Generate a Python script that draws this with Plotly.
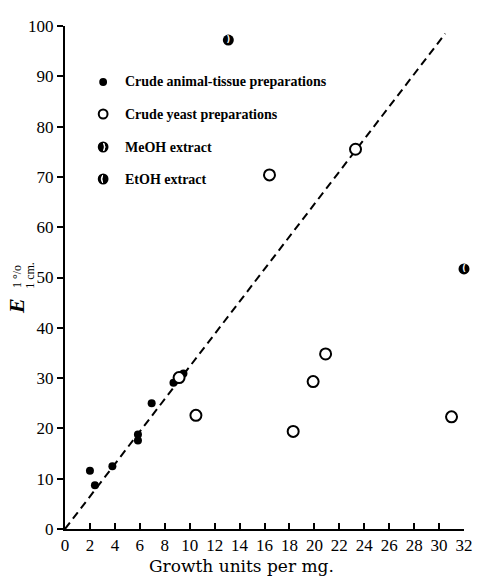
import plotly.graph_objects as go

# ---- data ----
animal_x = [2.0, 2.4, 3.8, 5.85, 5.85, 6.95, 8.7, 9.5]
animal_y = [11.6, 8.7, 12.5, 18.8, 17.6, 25.0, 29.1, 30.9]

yeast_x = [9.15, 10.5, 16.4, 18.3, 19.9, 20.9, 23.3, 31.0]
yeast_y = [30.1, 22.6, 70.4, 19.4, 29.3, 34.8, 75.5, 22.3]

meoh_x = [13.1]
meoh_y = [97.2]

etoh_x = [32.0]
etoh_y = [51.7]

line_x = [0.0, 30.5]
line_y = [0.0, 98.5]

x_ticks = list(range(0, 33, 2))
y_ticks = list(range(0, 101, 10))

legend_labels = ["Crude animal-tissue preparations",
                 "Crude yeast preparations",
                 "MeOH extract",
                 "EtOH extract"]

# ---- layout geometry ----
W, H = 485, 577
L, R, T, B = 65, 12, 26, 48
PW, PH = W - L - R, H - T - B


def px(xp):
    return (xp - L) / PW


def py(yp):
    return (H - B - yp) / PH


SERIF = "Liberation Serif, Times New Roman, serif"
fig = go.Figure()

fig.add_trace(go.Scatter(x=line_x, y=line_y, mode="lines",
                         line=dict(color="black", width=2, dash="8px,5px"),
                         showlegend=False, hoverinfo="skip"))

fig.add_trace(go.Scatter(x=animal_x, y=animal_y, mode="markers",
                         marker=dict(symbol="circle", size=8, color="black"),
                         cliponaxis=False, showlegend=False))

fig.add_trace(go.Scatter(x=yeast_x, y=yeast_y, mode="markers",
                         marker=dict(symbol="circle", size=11, color="white",
                                     line=dict(color="black", width=2)),
                         cliponaxis=False, showlegend=False))

# half-filled markers: black disc with a white crescent
for hx, hy, cres in [(meoh_x, meoh_y, ")"), (etoh_x, etoh_y, "(")]:
    fig.add_trace(go.Scatter(x=hx, y=hy, mode="markers+text",
                             marker=dict(symbol="circle", size=11, color="black"),
                             text=[cres] * len(hx), textposition="middle center",
                             textfont=dict(family="DejaVu Sans", size=8, color="white",
                                           weight="bold"),
                             cliponaxis=False, showlegend=False))

annotations = []
shapes = []


def circle(cx, cy, r, fill, line_w=0):
    return dict(type="circle", xref="paper", yref="paper",
                x0=px(cx - r), x1=px(cx + r), y0=py(cy + r), y1=py(cy - r),
                fillcolor=fill, line=dict(color="black", width=line_w),
                layer="above")


# legend built from shapes + text
leg_rows = [82, 114, 147, 179]
mx = 104
shapes.append(circle(mx, leg_rows[0], 4, "black"))
shapes.append(circle(mx, leg_rows[1], 4.5, "white", 2))
shapes.append(circle(mx, leg_rows[2], 5.5, "black"))
shapes.append(dict(type="path", xref="paper", yref="paper",
                   path="M {} {} Q {} {} {} {} Q {} {} {} {} Z".format(
                       px(mx + 0.5), py(leg_rows[2] - 4),
                       px(mx + 3.5), py(leg_rows[2]), px(mx + 0.5), py(leg_rows[2] + 4),
                       px(mx + 2.0), py(leg_rows[2]), px(mx + 0.5), py(leg_rows[2] - 4)),
                   fillcolor="white", line=dict(color="white", width=1), layer="above"))
shapes.append(circle(mx, leg_rows[3], 5.5, "black"))
shapes.append(dict(type="path", xref="paper", yref="paper",
                   path="M {} {} Q {} {} {} {} Q {} {} {} {} Z".format(
                       px(mx - 0.5), py(leg_rows[3] - 4),
                       px(mx - 3.5), py(leg_rows[3]), px(mx - 0.5), py(leg_rows[3] + 4),
                       px(mx - 2.0), py(leg_rows[3]), px(mx - 0.5), py(leg_rows[3] - 4)),
                   fillcolor="white", line=dict(color="white", width=1), layer="above"))

for i, lab in enumerate(legend_labels):
    annotations.append(dict(x=px(124), y=py(leg_rows[i]), xref="paper", yref="paper",
                            text="<b>" + lab + "</b>", showarrow=False, xanchor="left",
                            yanchor="middle",
                            font=dict(family=SERIF, size=14, color="black")))

# x-axis title
annotations.append(dict(x=px(245), y=py(566), xref="paper", yref="paper",
                        text="Growth units per mg.", showarrow=False,
                        xanchor="center", yanchor="middle",
                        font=dict(family="DejaVu Serif", size=17, color="black")))

# y-axis title E 1% / 1 cm.
annotations.append(dict(x=px(15), y=py(306), xref="paper", yref="paper",
                        text="<b><i>E</i></b>", showarrow=False, textangle=-90,
                        xanchor="center", yanchor="middle",
                        font=dict(family=SERIF, size=22, color="black")))
annotations.append(dict(x=px(16), y=py(277), xref="paper", yref="paper",
                        text="1 °/o", showarrow=False, textangle=-90,
                        xanchor="center", yanchor="middle",
                        font=dict(family=SERIF, size=12, color="black")))
annotations.append(dict(x=px(29), y=py(275), xref="paper", yref="paper",
                        text="1 cm.", showarrow=False, textangle=-90,
                        xanchor="center", yanchor="middle",
                        font=dict(family=SERIF, size=12, color="black")))

fig.update_layout(
    width=W, height=H,
    margin=dict(l=L, r=R, t=T, b=B, pad=0),
    paper_bgcolor="white", plot_bgcolor="white",
    showlegend=False,
    annotations=annotations,
    shapes=shapes,
    xaxis=dict(range=[0, 32], tickvals=x_ticks, ticktext=[str(v) for v in x_ticks],
               showgrid=False, zeroline=False, showline=True, linecolor="black",
               linewidth=2, ticks="inside", ticklen=6, tickwidth=2, tickcolor="black",
               tickfont=dict(family=SERIF, size=17, color="black"), fixedrange=True),
    yaxis=dict(range=[0, 100], tickvals=y_ticks, ticktext=[str(v) for v in y_ticks],
               showgrid=False, zeroline=False, showline=True, linecolor="black",
               linewidth=2, ticks="outside", ticklen=6, tickwidth=2, tickcolor="black",
               tickfont=dict(family=SERIF, size=17, color="black"), fixedrange=True),
)

fig.write_html("out.html")
